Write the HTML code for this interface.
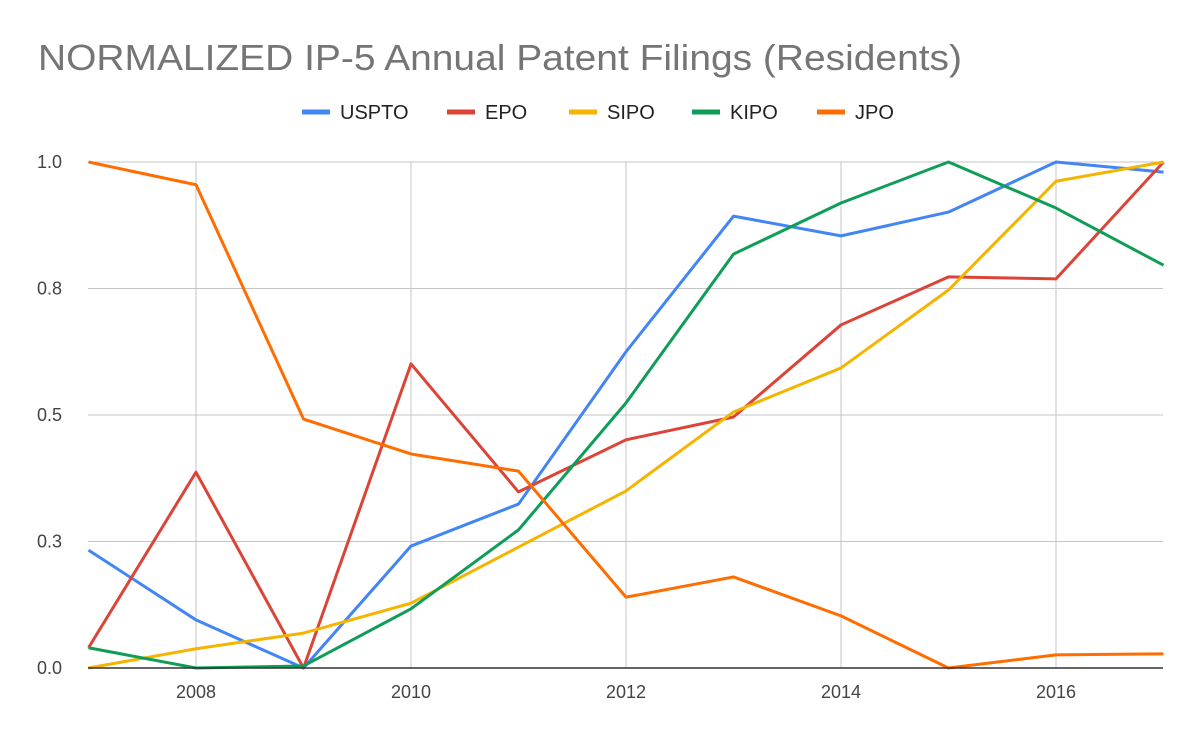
<!DOCTYPE html>
<html><head><meta charset="utf-8"><style>
body{margin:0;background:#fff;font-family:"Liberation Sans",Arial,sans-serif}
svg{display:block}
</style></head><body>
<svg width="1200" height="742" viewBox="0 0 1200 742">
<text x="38" y="70" font-size="36" fill="#757575" textLength="924" lengthAdjust="spacingAndGlyphs">NORMALIZED IP-5 Annual Patent Filings (Residents)</text>
<g id="legend"></g>
<g id="grid"></g>
<g id="series"></g>
<g id="axes"></g>
</svg>
<script>
const years=[2007,2008,2009,2010,2011,2012,2013,2014,2015,2016,2017];
const seriesNames=["USPTO","EPO","SIPO","KIPO","JPO"];
const uspto=[0.233,0.095,0,0.241,0.324,0.625,0.893,0.854,0.901,1.0,0.98];
const epo=[0.04,0.387,0,0.601,0.348,0.451,0.496,0.678,0.773,0.769,1];
const sipo=[0,0.038,0.069,0.128,0.239,0.35,0.506,0.593,0.747,0.962,1];
const kipo=[0.04,0,0.004,0.117,0.273,0.524,0.818,0.919,1,0.909,0.796];
const jpo=[1,0.955,0.492,0.423,0.389,0.14,0.18,0.103,0,0.026,0.028];
const yTicks=[0,0.25,0.5,0.75,1];
const yTickLabels=["0.0","0.3","0.5","0.8","1.0"];
const xTicks=[2008,2010,2012,2014,2016];
const colors=["#4285F4","#DB4437","#F4B400","#0F9D58","#FF6D01"];
const NS="http://www.w3.org/2000/svg";
const X0=88.5,X1=1163.5,Y0=668,Y1=162;
const xs=v=>X0+(v-2007)/(2017-2007)*(X1-X0);
const ys=v=>Y0-v*(Y0-Y1);
function mk(tag,attrs,parent){const e=document.createElementNS(NS,tag);for(const k in attrs)e.setAttribute(k,attrs[k]);parent.appendChild(e);return e;}
const grid=document.getElementById('grid'),axes=document.getElementById('axes'),ser=document.getElementById('series'),leg=document.getElementById('legend');
yTicks.forEach((t,i)=>{
 if(t>0){const l=mk('line',{x1:88,x2:1163,y1:ys(t),y2:ys(t),stroke:'#c4c4c4','stroke-width':1},grid);
 
 }
 const tx=mk('text',{x:62,y:ys(t)+6,'font-size':18,fill:'#444','text-anchor':'end'},axes);tx.textContent=yTickLabels[i];
 
 
});
xTicks.forEach(t=>{
 const l=mk('line',{x1:xs(t),x2:xs(t),y1:Y1,y2:Y0,stroke:'#c4c4c4','stroke-width':1},grid);
 
 
 const tx=mk('text',{x:xs(t),y:698,'font-size':18,fill:'#444','text-anchor':'middle'},axes);tx.textContent=t;
 
 
});
const base=mk('line',{x1:88,x2:1163,y1:Y0,y2:Y0,stroke:'#333','stroke-width':1.5},axes);


[uspto,epo,sipo,kipo,jpo].forEach((d,si)=>{
 const p=mk('polyline',{points:d.map((v,i)=>xs(years[i])+','+ys(v)).join(' '),fill:'none',stroke:colors[si],'stroke-width':3,'stroke-linejoin':'round'},ser);
 
 
});
const legX=[302,447,569,692,817];
seriesNames.forEach((n,i)=>{
 const g=mk('g',{},leg);
 
 
 mk('line',{x1:legX[i],x2:legX[i]+28,y1:112,y2:112,stroke:colors[i],'stroke-width':5},g);
 const t=mk('text',{x:legX[i]+38,y:119,'font-size':20,fill:'#222'},g);t.textContent=n;
});
</script>
</body></html>
